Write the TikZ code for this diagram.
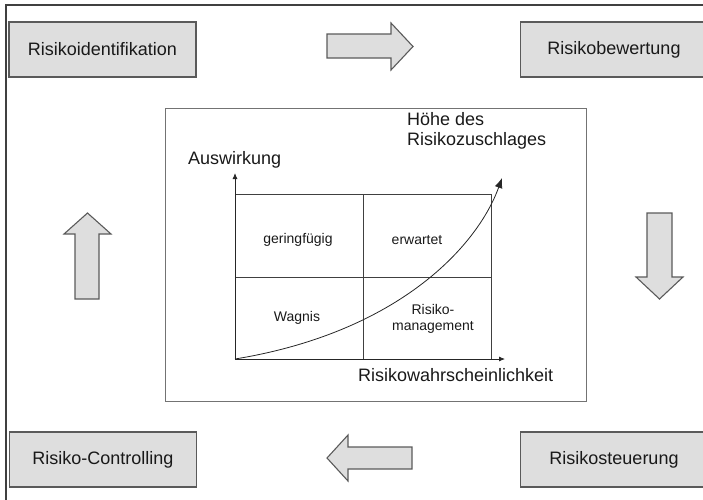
\documentclass[tikz,border=0pt]{standalone}
\usepackage{fontspec}
\setmainfont{Liberation Sans}
\usepackage{xcolor}
\usetikzlibrary{arrows.meta,calc,positioning}
\definecolor{boxfill}{HTML}{DEDEDE}
\definecolor{boxline}{HTML}{5A5A5A}

\begin{document}
\begin{tikzpicture}[x=1pt,y=-1pt,
    stage/.style={draw=boxline,line width=1.1pt,fill=boxfill,
                  minimum width=187pt,minimum height=55pt,inner sep=0pt,
                  font=\fontsize{18}{21}\selectfont,text=black!90},
    blockarrow/.style={draw=boxline,line width=1.1pt,fill=boxfill,line join=miter},
    axis/.style={-{Latex[length=6pt,width=5pt]},line width=0.8pt,black!85},
    grid/.style={line width=0.8pt,black!75},
    biglabel/.style={font=\fontsize{18}{20}\selectfont,inner sep=0pt,text=black!90},
    cell/.style={font=\fontsize{14}{16}\selectfont,align=center,inner sep=0pt,text=black!90}
  ]
    \useasboundingbox (0,0) rectangle (703,499);
    % outer frame, cut by the page on the right and at the bottom
    \draw[line width=1.2pt,black!75] (6,5) rectangle (712,505);

    % the four stages
    \node[stage] (ident) at (102.5,49.5) {Risikoidentifikation};
    \node[stage] (bewert) at (614,49.5) {Risikobewertung};
    \node[stage] (steuer) at (614,459.5) {Risikosteuerung};
    \node[stage] (control) at (103,459.5) {Risiko-Controlling};

    % block arrows between the stages
    \draw[blockarrow] (327,34) -- (391,34) -- (391,23) -- (413,46.5)
      -- (391,70) -- (391,58) -- (327,58) -- cycle;
    \draw[blockarrow] (647,213) -- (672,213) -- (672,277) -- (683,277)
      -- (659.5,299) -- (636,277) -- (647,277) -- cycle;
    \draw[blockarrow] (412,447) -- (348,447) -- (348,435) -- (327,458)
      -- (348,481) -- (348,469) -- (412,469) -- cycle;
    \draw[blockarrow] (75,299) -- (75,234) -- (64,234) -- (87.5,213)
      -- (111,234) -- (99,234) -- (99,299) -- cycle;

    % centre panel
    \draw[line width=1pt,black!55] (165,108) rectangle (586,401);
    \coordinate (o) at (235,359);
    \coordinate (ytop) at (235,173);
    \coordinate (xend) at (505,359);
    \coordinate (peak) at (502,178);
    \draw[grid] (235,194) rectangle (491,359);
    \draw[grid] (363,194) -- (363,359);
    \draw[grid] (235,277) -- (491,277);
    \draw[axis] (o) -- (ytop);
    \draw[axis] (o) -- (xend);
    \draw[axis,-{Latex[length=10pt,width=8pt]}] (o) .. controls (400,332) and (478,245) .. (peak);

    \node[biglabel,anchor=base west] (impact) at (188,164) {Auswirkung};
    \node[biglabel,anchor=base west,align=left] (premium) at (407,145)
      {Höhe des\\Risikozuschlages};
    \node[biglabel,anchor=base west] (prob) at (358,381) {Risikowahrscheinlichkeit};

    \node[cell] (minor) at (298,240) {geringfügig};
    \node[cell] (expect) at (417,240) {erwartet};
    \node[cell] (venture) at (297,318) {Wagnis};
    \node[cell] (manage) at (433,319) {Risiko-\\management};
  \end{tikzpicture}
\end{document}
